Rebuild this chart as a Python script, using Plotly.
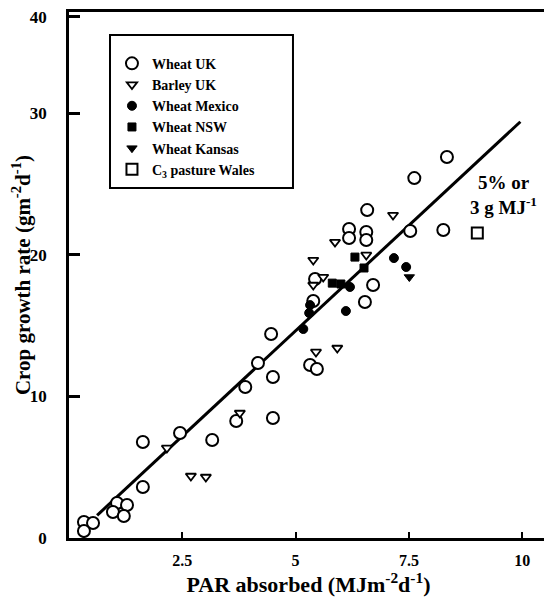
import plotly.graph_objects as go

# ---------------- data ----------------
wheat_uk_x = [0.33, 0.53, 0.33, 1.06, 1.28, 0.97, 1.21, 1.63, 1.63, 2.45, 3.16, 3.89, 3.69,
              4.17, 4.46, 4.50, 4.50, 5.32, 5.47, 5.39, 6.53, 6.71, 5.43, 6.18, 6.18, 6.56,
              6.56, 6.58, 7.53, 8.26, 7.62, 8.34]
wheat_uk_y = [1.13, 1.06, 0.49, 2.47, 2.33, 1.84, 1.55, 6.78, 3.60, 7.42, 6.92, 10.66, 8.26,
              12.36, 14.41, 11.37, 8.47, 12.22, 11.94, 16.74, 16.67, 17.87, 18.29, 21.82, 21.19, 21.61,
              21.05, 23.16, 21.68, 21.75, 25.42, 26.91]

barley_uk_x = [2.16, 2.69, 3.02, 3.77, 5.45, 5.92, 5.39, 5.61, 5.39, 5.87, 6.56, 7.15]
barley_uk_y = [6.36, 4.38, 4.31, 8.83, 13.14, 13.42, 17.87, 18.43, 19.63, 20.90, 19.99, 22.81]

wheat_mexico_x = [5.17, 5.30, 5.32, 6.11, 6.20, 7.17, 7.44]
wheat_mexico_y = [14.76, 15.89, 16.45, 16.03, 17.73, 19.77, 19.14]

wheat_nsw_x = [5.81, 6.00, 6.31, 6.51]
wheat_nsw_y = [18.00, 17.94, 19.84, 19.07]

wheat_kansas_x = [7.51]
wheat_kansas_y = [18.43]

pasture_wales_x = [9.01]
pasture_wales_y = [21.54]

fit_x = [0.62, 9.96]
fit_y = [1.60, 29.40]

x_tick_vals = [2.5, 5, 7.5, 10]
x_tick_text = ["2.5", "5", "7.5", "10"]
y_top = 37.15
y_tick_vals = [0, 10, 20, 30, 36.8]
y_tick_text = ["0", "10", "20", "30", "40"]

# ---------------- figure ----------------
SERIF = "Liberation Serif"
fig = go.Figure()

fig.add_trace(go.Scatter(x=fit_x, y=fit_y, mode="lines",
                         line=dict(color="black", width=3), showlegend=False,
                         hoverinfo="skip"))

def add_series(name, xs, ys, symbol, size, fill, lw):
    fig.add_trace(go.Scatter(
        x=xs, y=ys, mode="markers", name=name,
        marker=dict(symbol=symbol, size=size, color=fill,
                    line=dict(color="black", width=lw))))

add_series("Wheat UK", wheat_uk_x, wheat_uk_y, "circle", 12, "white", 2)
add_series("Barley UK", barley_uk_x, barley_uk_y, "triangle-down", 9, "white", 1.8)
add_series("Wheat Mexico", wheat_mexico_x, wheat_mexico_y, "circle", 9, "black", 1)
add_series("Wheat NSW", wheat_nsw_x, wheat_nsw_y, "square", 8, "black", 1)
add_series("Wheat Kansas", wheat_kansas_x, wheat_kansas_y, "triangle-down", 9, "black", 1)
add_series("C<sub>3</sub> pasture Wales", pasture_wales_x, pasture_wales_y, "square", 11, "white", 2)

# legend frame (paper coordinates)
fig.add_shape(type="rect", xref="paper", yref="paper",
              x0=0.0856, x1=0.4676, y0=0.6654, y1=0.9563,
              line=dict(color="black", width=2), fillcolor="rgba(0,0,0,0)")

fig.add_annotation(x=9.58, y=24.2, xref="x", yref="y",
                   text="5% or<br>3 g MJ<sup>-1</sup>", showarrow=False,
                   align="center", font=dict(family=SERIF, size=19, color="black", weight="bold"))

fig.update_layout(
    width=544, height=589,
    margin=dict(l=61, r=4, t=4, b=59, autoexpand=False),
    paper_bgcolor="white", plot_bgcolor="white",
    font=dict(family=SERIF, color="black"),
    legend=dict(x=0.0897, y=0.932, xanchor="left", yanchor="top",
                bgcolor="rgba(0,0,0,0)", borderwidth=0,
                font=dict(family=SERIF, size=14, color="black", weight="bold"),
                itemwidth=30, tracegroupgap=0),
)

fig.update_xaxes(
    range=[0, 10.57], tickvals=x_tick_vals, ticktext=x_tick_text,
    ticks="inside", ticklen=6, tickwidth=2, tickcolor="black",
    showline=True, linecolor="black", linewidth=2.5, mirror=True,
    showgrid=False, zeroline=False, automargin=False,
    tickfont=dict(family=SERIF, size=16, color="black", weight="bold"),
    ticklabelstandoff=6,
    title=dict(text="PAR absorbed (MJm<sup>-2</sup>d<sup>-1</sup>)",
               font=dict(family=SERIF, size=22, color="black", weight="bold"), standoff=4),
)
fig.update_yaxes(
    range=[0, y_top], tickvals=y_tick_vals, ticktext=y_tick_text,
    ticks="inside", ticklen=11, tickwidth=2.5, tickcolor="black",
    showline=True, linecolor="black", linewidth=2.5, mirror=True,
    showgrid=False, zeroline=False, automargin=False,
    ticklabeloverflow="allow",
    tickfont=dict(family=SERIF, size=17, color="black", weight="bold"),
    ticklabelstandoff=16,
    title=dict(text="Crop growth rate (gm<sup>-2</sup>d<sup>-1</sup>)",
               font=dict(family=SERIF, size=21, color="black", weight="bold"), standoff=5),
)

fig.write_html("out.html")
